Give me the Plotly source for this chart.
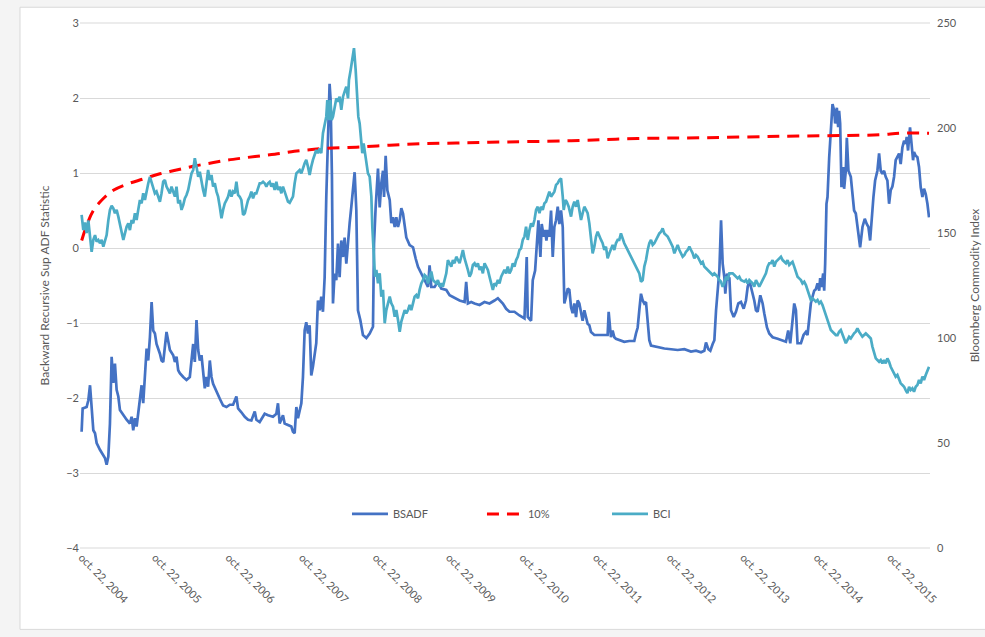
import pandas as pd
import plotly.graph_objects as go

# Sample times are decimal years; values read per series.
bsadf_time = [
    2004.805, 2004.819, 2004.873, 2004.896, 2004.919, 2004.941, 2004.964, 2004.987, 2005.009, 2005.054,
    2005.100, 2005.122, 2005.145, 2005.168, 2005.190, 2005.213, 2005.236, 2005.258, 2005.281, 2005.304,
    2005.326, 2005.372, 2005.417, 2005.462, 2005.485, 2005.507, 2005.530, 2005.553, 2005.575, 2005.598,
    2005.621, 2005.643, 2005.666, 2005.689, 2005.711, 2005.734, 2005.757, 2005.779, 2005.802, 2005.824,
    2005.870, 2005.892, 2005.915, 2005.938, 2005.960, 2006.006, 2006.051, 2006.074, 2006.096, 2006.119,
    2006.141, 2006.187, 2006.232, 2006.277, 2006.300, 2006.323, 2006.345, 2006.368, 2006.391, 2006.413,
    2006.436, 2006.458, 2006.481, 2006.504, 2006.526, 2006.549, 2006.572, 2006.594, 2006.640, 2006.685,
    2006.730, 2006.776, 2006.821, 2006.866, 2006.911, 2006.934, 2006.979, 2007.025, 2007.070, 2007.115,
    2007.161, 2007.183, 2007.228, 2007.274, 2007.296, 2007.342, 2007.409, 2007.455, 2007.477, 2007.500,
    2007.523, 2007.545, 2007.568, 2007.613, 2007.659, 2007.681, 2007.704, 2007.727, 2007.749, 2007.795,
    2007.817, 2007.840, 2007.862, 2007.885, 2007.908, 2007.930, 2007.953, 2007.998, 2008.021, 2008.044,
    2008.066, 2008.089, 2008.112, 2008.134, 2008.157, 2008.179, 2008.193, 2008.211, 2008.225, 2008.247,
    2008.270, 2008.293, 2008.315, 2008.338, 2008.361, 2008.383, 2008.406, 2008.429, 2008.451, 2008.474,
    2008.497, 2008.519, 2008.542, 2008.564, 2008.596, 2008.632, 2008.678, 2008.723, 2008.768, 2008.782,
    2008.804, 2008.836, 2008.859, 2008.881, 2008.904, 2008.918, 2008.940, 2008.963, 2008.995, 2009.017,
    2009.040, 2009.063, 2009.085, 2009.108, 2009.131, 2009.153, 2009.176, 2009.199, 2009.221, 2009.266,
    2009.312, 2009.348, 2009.380, 2009.425, 2009.470, 2009.516, 2009.538, 2009.561, 2009.606, 2009.651,
    2009.697, 2009.765, 2009.810, 2009.878, 2009.946, 2010.014, 2010.036, 2010.059, 2010.104, 2010.150,
    2010.218, 2010.285, 2010.353, 2010.421, 2010.467, 2010.535, 2010.580, 2010.625, 2010.693, 2010.761,
    2010.829, 2010.860, 2010.874, 2010.919, 2010.942, 2010.974, 2011.001, 2011.019, 2011.046, 2011.064,
    2011.091, 2011.110, 2011.128, 2011.146, 2011.168, 2011.191, 2011.214, 2011.236, 2011.259, 2011.282,
    2011.304, 2011.327, 2011.350, 2011.372, 2011.395, 2011.418, 2011.440, 2011.463, 2011.485, 2011.508,
    2011.531, 2011.553, 2011.576, 2011.599, 2011.621, 2011.644, 2011.667, 2011.689, 2011.712, 2011.735,
    2011.780, 2011.848, 2011.916, 2011.961, 2011.975, 2011.993, 2012.006, 2012.029, 2012.052, 2012.074,
    2012.119, 2012.187, 2012.255, 2012.323, 2012.346, 2012.369, 2012.391, 2012.414, 2012.437, 2012.459,
    2012.482, 2012.505, 2012.527, 2012.550, 2012.640, 2012.731, 2012.822, 2012.912, 2013.003, 2013.093,
    2013.161, 2013.229, 2013.274, 2013.297, 2013.329, 2013.356, 2013.388, 2013.411, 2013.434, 2013.456,
    2013.479, 2013.502, 2013.524, 2013.547, 2013.560, 2013.583, 2013.601, 2013.615, 2013.637, 2013.674,
    2013.705, 2013.737, 2013.773, 2013.810, 2013.841, 2013.864, 2013.887, 2013.909, 2013.932, 2013.954,
    2013.977, 2014.000, 2014.036, 2014.068, 2014.090, 2014.127, 2014.158, 2014.204, 2014.272, 2014.339,
    2014.385, 2014.416, 2014.444, 2014.498, 2014.521, 2014.543, 2014.589, 2014.625, 2014.656, 2014.679,
    2014.702, 2014.724, 2014.747, 2014.770, 2014.792, 2014.815, 2014.838, 2014.851, 2014.869, 2014.892,
    2014.906, 2014.919, 2014.937, 2014.951, 2014.974, 2014.996, 2015.019, 2015.042, 2015.055, 2015.078,
    2015.096, 2015.109, 2015.123, 2015.141, 2015.164, 2015.177, 2015.200, 2015.214, 2015.236, 2015.268,
    2015.291, 2015.313, 2015.336, 2015.368, 2015.395, 2015.427, 2015.458, 2015.485, 2015.508, 2015.531,
    2015.553, 2015.576, 2015.599, 2015.630, 2015.653, 2015.675, 2015.698, 2015.721, 2015.743, 2015.766,
    2015.789, 2015.811, 2015.834, 2015.857, 2015.879, 2015.902, 2015.925, 2015.947, 2015.970, 2015.993,
    2016.015, 2016.029, 2016.047, 2016.074, 2016.097, 2016.115, 2016.128, 2016.151, 2016.174, 2016.196,
    2016.219, 2016.242, 2016.264, 2016.287, 2016.310, 2016.332,
]
bsadf_value = [
    -2.45, -2.14, -2.12, -2.03, -1.83, -2.20, -2.43, -2.47, -2.60, -2.69,
    -2.76, -2.80, -2.89, -2.78, -2.34, -1.45, -1.80, -1.54, -1.89, -1.98,
    -2.16, -2.23, -2.29, -2.34, -2.25, -2.43, -2.27, -2.38, -2.21, -1.98,
    -1.83, -2.07, -1.68, -1.34, -1.50, -1.19, -0.72, -1.10, -1.14, -1.28,
    -1.41, -1.50, -1.52, -1.32, -1.12, -1.36, -1.43, -1.52, -1.45, -1.63,
    -1.67, -1.72, -1.76, -1.72, -1.52, -1.28, -1.52, -0.96, -1.36, -1.50,
    -1.43, -1.69, -1.87, -1.72, -1.85, -1.50, -1.72, -1.81, -1.92, -2.01,
    -2.10, -2.12, -2.09, -2.09, -1.98, -2.14, -2.19, -2.25, -2.29, -2.30,
    -2.18, -2.29, -2.32, -2.25, -2.21, -2.23, -2.25, -2.21, -2.07, -2.34,
    -2.29, -2.23, -2.34, -2.36, -2.38, -2.45, -2.47, -2.12, -2.27, -2.07,
    -1.72, -1.10, -0.99, -1.14, -1.03, -1.70, -1.58, -1.27, -0.70, -0.83,
    -0.65, -0.85, -0.39, 0.68, 1.39, 2.19, 1.97, 0.94, -0.74, -0.34,
    -0.43, 0.06, -0.39, 0.10, -0.12, 0.14, -0.21, 0.10, 0.33, 0.55,
    0.77, 1.01, 0.50, -0.83, -0.96, -1.16, -1.20, -1.14, -1.05, 0.06,
    0.54, 1.06, 0.54, 0.86, 1.03, 0.68, 1.23, 0.77, 0.64, 0.33,
    0.41, 0.28, 0.41, 0.28, 0.37, 0.53, 0.46, 0.32, 0.14, 0.04,
    0.01, -0.14, -0.25, -0.34, -0.43, -0.52, -0.23, -0.52, -0.52, -0.45,
    -0.54, -0.56, -0.63, -0.67, -0.70, -0.72, -0.45, -0.74, -0.72, -0.74,
    -0.76, -0.72, -0.74, -0.70, -0.67, -0.74, -0.81, -0.85, -0.85, -0.90,
    -0.94, -0.12, -0.92, -0.97, -0.43, -0.30, 0.14, 0.37, -0.12, 0.32,
    0.15, 0.24, 0.10, 0.24, 0.15, 0.50, -0.12, 0.28, 0.37, 0.55,
    0.32, 0.50, 0.28, -0.74, -0.65, -0.54, -0.56, -0.79, -0.87, -0.74,
    -0.92, -0.70, -0.74, -0.87, -0.97, -0.83, -0.94, -1.01, -1.03, -1.12,
    -1.16, -1.16, -1.17, -1.16, -0.85, -1.14, -1.19, -1.10, -1.19, -1.21,
    -1.23, -1.25, -1.24, -1.24, -1.14, -1.06, -0.83, -0.61, -0.70, -0.74,
    -0.72, -1.01, -1.23, -1.30, -1.32, -1.34, -1.35, -1.36, -1.35, -1.38,
    -1.37, -1.39, -1.37, -1.26, -1.35, -1.37, -1.28, -1.23, -0.83, -0.61,
    -0.30, 0.37, -0.21, -0.39, -0.61, -0.34, -0.43, -0.39, -0.83, -0.92,
    -0.85, -0.74, -0.72, -0.81, -0.70, -0.52, -0.43, -0.52, -0.61, -0.70,
    -0.83, -0.85, -0.63, -0.74, -0.87, -1.06, -1.14, -1.19, -1.21, -1.23,
    -1.25, -1.10, -1.27, -0.74, -0.83, -1.27, -1.27, -1.16, -1.12, -1.16,
    -0.96, -0.74, -0.65, -0.57, -0.55, -0.47, -0.57, -0.40, -0.52, -0.34,
    -0.57, -0.21, 0.59, 0.68, 1.21, 1.57, 1.92, 1.83, 1.66, 1.87,
    1.61, 1.83, 1.66, 0.81, 1.08, 0.79, 1.03, 1.47, 1.03, 0.95,
    0.68, 0.50, 0.46, 0.24, 0.01, 0.28, 0.39, 0.32, 0.28, 0.10,
    0.46, 0.68, 0.90, 1.03, 1.26, 1.03, 0.99, 1.03, 0.95, 0.90,
    0.59, 0.77, 0.82, 0.95, 1.17, 1.21, 1.26, 1.12, 1.34, 1.43,
    1.39, 1.48, 1.30, 1.61, 1.39, 1.17, 1.28, 1.23, 1.21, 1.08,
    0.81, 0.68, 0.79, 0.72, 0.59, 0.41,
]

bci_time = [
    2004.805, 2004.828, 2004.851, 2004.873, 2004.896, 2004.919, 2004.941, 2004.964, 2004.987, 2005.009,
    2005.032, 2005.054, 2005.077, 2005.100, 2005.122, 2005.145, 2005.168, 2005.190, 2005.213, 2005.236,
    2005.258, 2005.281, 2005.304, 2005.326, 2005.349, 2005.372, 2005.394, 2005.417, 2005.440, 2005.462,
    2005.485, 2005.507, 2005.530, 2005.553, 2005.575, 2005.598, 2005.621, 2005.643, 2005.666, 2005.689,
    2005.711, 2005.734, 2005.757, 2005.779, 2005.802, 2005.824, 2005.847, 2005.870, 2005.892, 2005.915,
    2005.938, 2005.960, 2005.983, 2006.006, 2006.028, 2006.051, 2006.074, 2006.096, 2006.119, 2006.141,
    2006.164, 2006.187, 2006.209, 2006.232, 2006.255, 2006.277, 2006.300, 2006.323, 2006.345, 2006.368,
    2006.391, 2006.413, 2006.436, 2006.458, 2006.481, 2006.504, 2006.526, 2006.549, 2006.572, 2006.594,
    2006.617, 2006.640, 2006.662, 2006.685, 2006.708, 2006.730, 2006.753, 2006.776, 2006.798, 2006.821,
    2006.844, 2006.866, 2006.889, 2006.911, 2006.934, 2006.957, 2006.979, 2007.002, 2007.025, 2007.047,
    2007.070, 2007.093, 2007.115, 2007.138, 2007.161, 2007.183, 2007.206, 2007.228, 2007.251, 2007.274,
    2007.296, 2007.319, 2007.342, 2007.364, 2007.387, 2007.409, 2007.432, 2007.455, 2007.477, 2007.500,
    2007.523, 2007.545, 2007.568, 2007.591, 2007.613, 2007.636, 2007.681, 2007.704, 2007.727, 2007.772,
    2007.795, 2007.840, 2007.862, 2007.885, 2007.908, 2007.930, 2007.953, 2007.998, 2008.021, 2008.044,
    2008.066, 2008.089, 2008.112, 2008.134, 2008.148, 2008.171, 2008.189, 2008.207, 2008.225, 2008.247,
    2008.270, 2008.293, 2008.315, 2008.338, 2008.361, 2008.383, 2008.406, 2008.429, 2008.442, 2008.465,
    2008.488, 2008.510, 2008.533, 2008.551, 2008.569, 2008.587, 2008.605, 2008.623, 2008.641, 2008.660,
    2008.678, 2008.700, 2008.723, 2008.746, 2008.759, 2008.777, 2008.795, 2008.814, 2008.836, 2008.859,
    2008.881, 2008.904, 2008.927, 2008.949, 2008.972, 2008.995, 2009.017, 2009.040, 2009.063, 2009.085,
    2009.108, 2009.131, 2009.153, 2009.176, 2009.199, 2009.221, 2009.244, 2009.266, 2009.289, 2009.312,
    2009.334, 2009.357, 2009.380, 2009.402, 2009.425, 2009.448, 2009.470, 2009.493, 2009.516, 2009.538,
    2009.561, 2009.584, 2009.606, 2009.629, 2009.651, 2009.674, 2009.697, 2009.719, 2009.742, 2009.765,
    2009.787, 2009.810, 2009.833, 2009.855, 2009.878, 2009.901, 2009.923, 2009.946, 2009.969, 2009.991,
    2010.014, 2010.036, 2010.059, 2010.082, 2010.104, 2010.127, 2010.150, 2010.172, 2010.195, 2010.218,
    2010.240, 2010.263, 2010.286, 2010.308, 2010.331, 2010.353, 2010.376, 2010.399, 2010.421, 2010.444,
    2010.467, 2010.489, 2010.512, 2010.535, 2010.557, 2010.580, 2010.602, 2010.625, 2010.648, 2010.670,
    2010.693, 2010.716, 2010.738, 2010.761, 2010.783, 2010.806, 2010.829, 2010.851, 2010.874, 2010.897,
    2010.919, 2010.942, 2010.965, 2010.987, 2011.010, 2011.033, 2011.055, 2011.078, 2011.100, 2011.123,
    2011.146, 2011.168, 2011.191, 2011.214, 2011.236, 2011.259, 2011.282, 2011.304, 2011.327, 2011.350,
    2011.363, 2011.386, 2011.404, 2011.431, 2011.463, 2011.485, 2011.508, 2011.531, 2011.553, 2011.576,
    2011.599, 2011.621, 2011.644, 2011.667, 2011.689, 2011.712, 2011.735, 2011.757, 2011.780, 2011.803,
    2011.825, 2011.848, 2011.871, 2011.893, 2011.916, 2011.938, 2011.961, 2011.984, 2012.006, 2012.029,
    2012.052, 2012.074, 2012.097, 2012.119, 2012.142, 2012.165, 2012.187, 2012.210, 2012.233, 2012.255,
    2012.278, 2012.301, 2012.323, 2012.346, 2012.369, 2012.391, 2012.414, 2012.437, 2012.459, 2012.482,
    2012.505, 2012.527, 2012.550, 2012.573, 2012.595, 2012.618, 2012.640, 2012.663, 2012.686, 2012.708,
    2012.731, 2012.754, 2012.776, 2012.799, 2012.822, 2012.844, 2012.867, 2012.890, 2012.912, 2012.935,
    2012.957, 2012.980, 2013.003, 2013.025, 2013.048, 2013.071, 2013.093, 2013.116, 2013.138, 2013.161,
    2013.184, 2013.206, 2013.229, 2013.252, 2013.274, 2013.297, 2013.320, 2013.342, 2013.365, 2013.388,
    2013.411, 2013.456, 2013.479, 2013.502, 2013.524, 2013.547, 2013.570, 2013.592, 2013.615, 2013.660,
    2013.683, 2013.728, 2013.751, 2013.773, 2013.819, 2013.841, 2013.864, 2013.887, 2013.909, 2013.932,
    2013.954, 2013.977, 2014.000, 2014.022, 2014.045, 2014.068, 2014.090, 2014.113, 2014.136, 2014.158,
    2014.181, 2014.204, 2014.226, 2014.249, 2014.272, 2014.294, 2014.317, 2014.340, 2014.362, 2014.385,
    2014.407, 2014.430, 2014.453, 2014.475, 2014.498, 2014.521, 2014.543, 2014.566, 2014.589, 2014.611,
    2014.634, 2014.657, 2014.679, 2014.702, 2014.724, 2014.747, 2014.770, 2014.792, 2014.815, 2014.838,
    2014.860, 2014.883, 2014.906, 2014.928, 2014.951, 2014.974, 2014.996, 2015.019, 2015.042, 2015.064,
    2015.087, 2015.109, 2015.132, 2015.155, 2015.177, 2015.200, 2015.222, 2015.245, 2015.268, 2015.291,
    2015.313, 2015.336, 2015.358, 2015.381, 2015.404, 2015.426, 2015.449, 2015.472, 2015.494, 2015.517,
    2015.540, 2015.562, 2015.585, 2015.608, 2015.630, 2015.653, 2015.675, 2015.698, 2015.721, 2015.743,
    2015.766, 2015.789, 2015.811, 2015.834, 2015.857, 2015.879, 2015.902, 2015.925, 2015.947, 2015.970,
    2015.993, 2016.015, 2016.038, 2016.061, 2016.083, 2016.106, 2016.128, 2016.151, 2016.174, 2016.196,
    2016.219, 2016.242, 2016.264, 2016.287, 2016.310, 2016.332,
]
bci_value = [
    158.6, 151.4, 155.0, 150.0, 156.0, 146.7, 141.0, 146.7, 149.0, 145.9,
    146.7, 145.1, 146.7, 143.5, 146.7, 149.0, 156.0, 161.0, 163.0, 161.7,
    159.4, 161.0, 157.8, 154.6, 151.4, 146.7, 149.8, 153.0, 154.6, 151.4,
    156.2, 154.6, 159.4, 156.2, 161.0, 165.7, 164.1, 168.9, 165.7, 170.5,
    173.6, 176.7, 174.4, 171.3, 168.9, 169.7, 167.3, 164.9, 168.9, 174.4,
    175.2, 172.1, 170.5, 168.9, 172.1, 169.7, 167.3, 172.1, 164.1, 165.7,
    161.0, 163.3, 166.5, 168.1, 170.5, 174.4, 178.4, 180.0, 185.6, 181.6,
    176.8, 179.2, 174.4, 170.5, 167.3, 175.2, 180.0, 175.2, 177.6, 172.1,
    173.7, 169.7, 167.3, 162.5, 157.0, 161.0, 164.1, 165.7, 167.3, 170.5,
    167.3, 169.7, 168.9, 174.4, 168.1, 167.3, 165.7, 158.6, 159.4, 162.5,
    165.7, 167.3, 169.7, 166.5, 168.9, 168.9, 172.0, 173.7, 173.7, 174.4,
    173.7, 172.1, 173.7, 174.4, 172.1, 173.7, 170.5, 174.4, 170.5, 172.1,
    168.9, 172.1, 169.7, 167.3, 164.9, 164.4, 167.3, 173.7, 178.4, 180.0,
    178.4, 183.2, 184.8, 181.6, 177.6, 181.6, 184.8, 189.5, 188.0, 190.3,
    188.0, 197.5, 202.2, 205.4, 213.3, 203.8, 213.3, 203.8, 205.4, 210.2,
    214.1, 212.5, 214.9, 208.6, 214.9, 217.3, 219.7, 214.1, 222.9, 227.6,
    232.4, 238.0, 227.6, 216.5, 205.4, 202.2, 195.9, 188.0, 192.7, 188.0,
    181.6, 178.4, 176.8, 167.3, 153.0, 141.9, 129.2, 132.4, 126.0, 130.8,
    119.7, 122.9, 107.0, 113.3, 116.5, 119.7, 116.5, 114.9, 110.1, 113.3,
    108.6, 103.0, 107.8, 110.1, 113.3, 111.7, 113.3, 115.7, 113.3, 116.5,
    119.7, 120.5, 118.9, 122.9, 126.0, 127.6, 130.0, 129.2, 126.0, 129.2,
    131.6, 127.6, 126.8, 126.0, 127.6, 124.4, 126.0, 124.4, 127.6, 130.8,
    137.1, 135.6, 134.0, 137.1, 135.6, 138.7, 137.1, 135.6, 138.7, 141.9,
    137.9, 135.6, 132.4, 129.2, 130.8, 134.8, 135.6, 134.0, 135.6, 132.4,
    134.0, 130.8, 135.6, 134.0, 132.4, 129.2, 126.0, 122.9, 126.0, 125.2,
    127.6, 126.0, 129.2, 130.8, 132.4, 130.8, 134.0, 130.8, 132.4, 135.6,
    134.0, 137.1, 138.7, 141.9, 142.7, 146.7, 148.3, 153.0, 146.7, 151.4,
    154.6, 153.0, 156.2, 161.0, 162.5, 159.4, 162.5, 161.0, 164.1, 164.9,
    167.3, 169.7, 167.3, 168.9, 169.7, 172.9, 173.7, 175.2, 176.0, 167.3,
    161.0, 165.7, 164.9, 162.5, 157.8, 162.5, 164.9, 162.5, 165.7, 161.0,
    156.2, 159.4, 162.5, 161.0, 159.4, 154.6, 146.7, 140.3, 143.5, 148.3,
    150.6, 148.3, 146.7, 145.1, 141.9, 143.5, 137.9, 140.3, 141.9, 144.3,
    141.9, 145.1, 146.7, 146.7, 149.8, 146.7, 145.1, 143.5, 141.9, 140.3,
    138.7, 137.1, 135.6, 134.0, 132.4, 130.8, 126.8, 127.6, 134.0, 137.1,
    141.9, 145.1, 146.7, 144.3, 145.1, 146.7, 148.3, 149.8, 150.6, 152.2,
    149.8, 149.0, 148.3, 146.7, 145.1, 143.5, 140.3, 142.7, 144.3, 141.9,
    140.3, 138.7, 139.5, 141.1, 141.9, 143.5, 141.9, 140.3, 137.9, 139.5,
    138.7, 137.1, 135.6, 136.3, 134.0, 133.2, 132.4, 131.6, 130.8, 130.0,
    130.8, 129.2, 127.6, 126.8, 124.4, 126.0, 129.2, 127.6, 130.8, 130.8,
    130.0, 128.4, 129.2, 127.6, 126.8, 127.6, 126.0, 127.6, 126.8, 126.0,
    124.4, 127.6, 126.0, 124.4, 126.0, 127.6, 129.2, 130.8, 134.0, 135.6,
    135.6, 137.1, 134.0, 136.3, 137.1, 137.9, 138.7, 137.1, 136.3, 135.6,
    137.1, 134.8, 135.6, 136.3, 134.0, 130.8, 129.2, 128.4, 127.6, 126.0,
    126.8, 125.2, 122.9, 120.5, 118.1, 118.9, 118.1, 117.3, 118.1, 116.5,
    117.3, 115.7, 113.3, 111.0, 108.6, 106.2, 103.8, 103.0, 102.2, 101.4,
    101.4, 103.0, 103.8, 101.4, 99.0, 97.5, 99.0, 100.6, 99.8, 101.4,
    102.2, 103.0, 104.6, 103.0, 101.4, 100.6, 101.4, 102.2, 101.4, 100.6,
    99.8, 95.9, 92.7, 90.3, 89.5, 88.7, 89.5, 87.9, 89.5, 87.9,
    90.3, 88.7, 86.3, 84.8, 83.2, 81.6, 82.4, 80.0, 78.4, 77.6,
    76.8, 75.2, 73.7, 76.8, 75.2, 76.0, 74.4, 76.8, 77.6, 80.0,
    78.4, 81.6, 80.0, 82.4, 84.0, 86.3,
]

# 10% critical value sequence
cv10_time = [
    2004.806, 2004.873, 2004.964, 2005.100, 2005.236, 2005.417, 2005.643, 2005.870, 2006.096, 2006.323,
    2006.550, 2006.776, 2007.000, 2007.250, 2007.500, 2007.700, 2007.908, 2008.134, 2008.542, 2008.995,
    2009.443, 2009.901, 2010.354, 2011.464, 2012.369, 2013.275, 2014.317, 2015.222, 2015.676, 2015.947,
    2016.332,
]
cv10_value = [
    0.10, 0.30, 0.50, 0.66, 0.77, 0.85, 0.92, 0.99, 1.04, 1.09,
    1.13, 1.17, 1.20, 1.23, 1.26, 1.29, 1.31, 1.33, 1.345, 1.37,
    1.39, 1.40, 1.41, 1.43, 1.46, 1.47, 1.49, 1.50, 1.51, 1.53,
    1.53,
]

tick_years = list(range(2004, 2016))
tick_labels = [f"oct. 22, {y}" for y in tick_years]


def to_date(t):
    """Decimal year -> timestamp."""
    y = int(t)
    start = pd.Timestamp(y, 1, 1)
    return start + (pd.Timestamp(y + 1, 1, 1) - start) * (t - y)


def dates(ts):
    return [to_date(t) for t in ts]


TEXT = "#595959"
GRID = "#d9d9d9"
FONT = "Lato, 'Open Sans', sans-serif"
Y_MIN, Y_MAX = -4, 3

fig = go.Figure()
fig.add_trace(go.Scatter(
    x=dates(bsadf_time), y=bsadf_value, name="BSADF", mode="lines",
    line=dict(color="#4472c4", width=2.7), yaxis="y", legend="legend",
))
fig.add_trace(go.Scatter(
    x=dates(cv10_time), y=cv10_value, name="10%", mode="lines",
    line=dict(color="#ff0000", width=3, dash="12px,8px", shape="spline"), yaxis="y", legend="legend2",
))
fig.add_trace(go.Scatter(
    x=dates(bci_time), y=bci_value, name="BCI", mode="lines",
    line=dict(color="#4bacc6", width=2.7), yaxis="y2", legend="legend3",
))

# light frame around the chart area
fig.add_shape(type="rect", xref="paper", yref="paper",
              x0=-0.0706, x1=1.08, y0=-0.155, y1=1.030,
              fillcolor="white", line=dict(color=GRID, width=1), layer="below")
# grid lines on the bottom and top bounds of the left axis
for yp in (0, 1):
    fig.add_shape(type="line", xref="paper", yref="paper", x0=0, x1=1, y0=yp, y1=yp,
                  line=dict(color=GRID, width=1), layer="below")

legend_style = dict(orientation="h", xanchor="left", y=0.065, yanchor="middle",
                    bgcolor="rgba(0,0,0,0)", font=dict(size=11, color=TEXT), itemwidth=36)

fig.update_layout(
    width=985, height=637,
    margin=dict(l=80, r=55, t=23, b=89, autoexpand=False),
    paper_bgcolor="#f4f4f4",
    plot_bgcolor="rgba(0,0,0,0)",
    font=dict(family=FONT, size=11, color=TEXT),
    showlegend=True,
    legend=dict(x=0.3141, **legend_style),
    legend2=dict(x=0.4729, **legend_style),
    legend3=dict(x=0.6200, **legend_style),
    xaxis=dict(
        type="date", automargin=False,
        range=[to_date(2004.783), to_date(2016.345)],
        tickmode="array",
        tickvals=[pd.Timestamp(y, 10, 22) for y in tick_years],
        ticktext=tick_labels,
        tickangle=45,
        showgrid=False, zeroline=False, showline=False, ticks="",
        tickfont=dict(size=11, color=TEXT),
    ),
    yaxis=dict(
        range=[Y_MIN, Y_MAX], dtick=1, tick0=0, automargin=False,
        showgrid=True, gridcolor=GRID, gridwidth=1,
        zeroline=False, showline=False, ticks="",
        tickfont=dict(size=11, color=TEXT),
        title=dict(text="Backward Recursive Sup ADF Statistic", font=dict(size=12, color=TEXT), standoff=14),
    ),
    yaxis2=dict(
        range=[0, 250], dtick=50, tick0=0, overlaying="y", side="right", automargin=False,
        showgrid=False, zeroline=False, showline=False, ticks="",
        ticklabelstandoff=6,
        tickfont=dict(size=11, color=TEXT),
        title=dict(text="Bloomberg Commodity Index", font=dict(size=12, color=TEXT), standoff=14),
    ),
)

fig.write_html("out.html")
